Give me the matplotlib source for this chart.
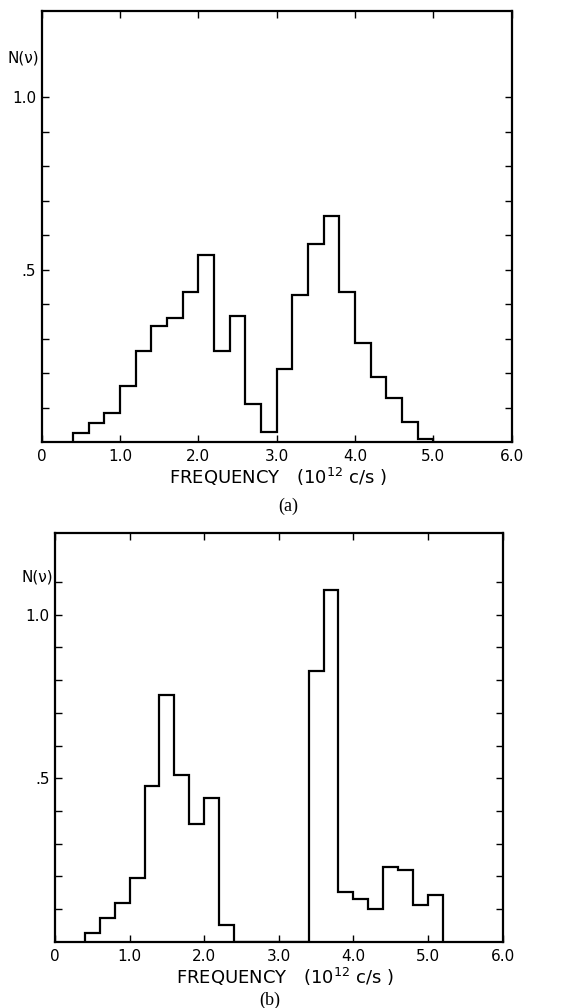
import matplotlib
matplotlib.use('Agg')
import matplotlib.pyplot as plt
from matplotlib.ticker import FixedLocator
import matplotlib.transforms as mtransforms

# Panel (a): histogram bin edges (10^12 c/s) and N(nu) heights
edges_a = [0.4, 0.6, 0.8, 1.0, 1.2, 1.4, 1.6, 1.8, 2.0, 2.2, 2.4, 2.6, 2.8,
           3.0, 3.2, 3.4, 3.6, 3.8, 4.0, 4.2, 4.4, 4.6, 4.8, 5.0]
heights_a = [0.028, 0.055, 0.084, 0.162, 0.265, 0.336, 0.360, 0.435, 0.542,
             0.265, 0.366, 0.112, 0.029, 0.212, 0.426, 0.574, 0.655, 0.435,
             0.289, 0.190, 0.128, 0.058, 0.011]

# Panel (b)
edges_b = [0.4, 0.6, 0.8, 1.0, 1.2, 1.4, 1.6, 1.8, 2.0, 2.2, 2.4, 3.4, 3.6,
           3.8, 4.0, 4.2, 4.4, 4.6, 4.8, 5.0, 5.2]
heights_b = [0.026, 0.072, 0.118, 0.194, 0.476, 0.753, 0.511, 0.359, 0.440,
             0.051, 0.0, 0.828, 1.076, 0.152, 0.131, 0.100, 0.227, 0.220,
             0.113, 0.143]

xtick_vals = [0, 1, 2, 3, 4, 5, 6]
xtick_labels = ['0', '1.0', '2.0', '3.0', '4.0', '5.0', '6.0']
ytick_vals = [0.5, 1.0]
ytick_labels = ['.5', '1.0']
xlabel_text = 'FREQUENCY   (10$^{12}$ c/s )'

W, H = 577, 1008
fig = plt.figure(figsize=(W / 100, H / 100), dpi=100)
fig.patch.set_facecolor('white')

def px_axes(left, right, top, bottom):
    return fig.add_axes([left / W, 1 - bottom / H, (right - left) / W, (bottom - top) / H])

ax_a = px_axes(41.7, 511.7, 11, 442.3)
ax_b = px_axes(55, 502.5, 533, 941.7)

def style(ax, minor_max, edges, heights, label_x, label_y, sub, sub_x, sub_y):
    ax.stairs(heights, edges, baseline=0, color='black', linewidth=1.6)
    ax.set_xlim(0, 6)
    ax.set_ylim(0, 1.25)
    for s in ax.spines.values():
        s.set_linewidth(1.6)
    ax.set_xticks(xtick_vals)
    ax.set_xticklabels(xtick_labels)
    ax.set_yticks(ytick_vals)
    ax.set_yticklabels(ytick_labels)
    minors = [round(0.1 * i, 1) for i in range(1, int(round(minor_max * 10)) + 1)
              if round(0.1 * i, 1) not in ytick_vals]
    ax.yaxis.set_minor_locator(FixedLocator(minors))
    ax.tick_params(axis='both', which='both', direction='in', top=True, right=True,
                   width=1.0, length=5, labelsize=11, pad=4)
    ax.tick_params(axis='x', which='major', pad=5)
    trans = mtransforms.blended_transform_factory(ax.transAxes, ax.transData)
    ax.text(-0.005, 1.115, 'N(ν)', transform=trans, ha='right', va='center', fontsize=11)
    fig.text(label_x / W, 1 - label_y / H, xlabel_text,
             ha='center', va='center', fontsize=13)
    fig.text(sub_x / W, 1 - sub_y / H, sub, ha='center', va='center',
             fontsize=13, family='Liberation Serif')

style(ax_a, 1.0, edges_a, heights_a, 278, 477, '(a)', 288, 506)
style(ax_b, 1.1, edges_b, heights_b, 285, 977, '(b)', 270, 1000)

fig.savefig('out.png', dpi=100, facecolor='white')
